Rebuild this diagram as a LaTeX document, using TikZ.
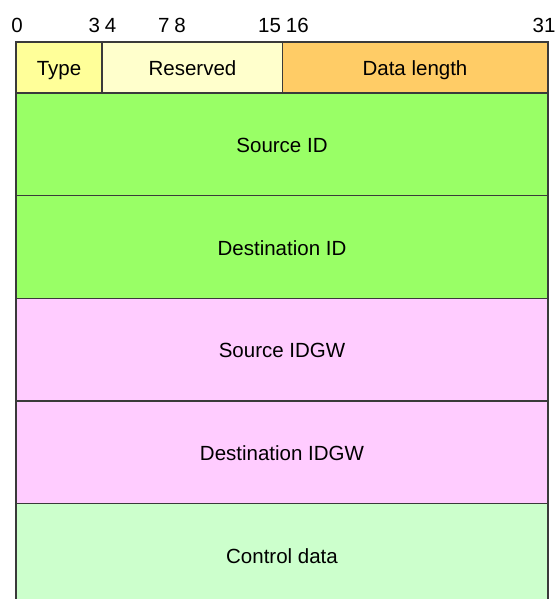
\documentclass[tikz,border=0pt]{standalone}
\usepackage{fontspec}
\setmainfont{Liberation Sans}
\definecolor{typec}{HTML}{FFFF99}
\definecolor{resc}{HTML}{FFFFCC}
\definecolor{lenc}{HTML}{FFCC66}
\definecolor{idc}{HTML}{99FF66}
\definecolor{gwc}{HTML}{FFCCFF}
\definecolor{ctlc}{HTML}{CCFFCC}
\definecolor{edge}{HTML}{3A3A3A}
\begin{document}
\begin{tikzpicture}[x=1pt,y=-1pt,
  field/.style={draw=edge,line width=1.5pt},
  lbl/.style={font=\fontsize{20.5}{24}\selectfont,text=black,inner sep=0pt,anchor=base},
  bit/.style={font=\fontsize{20.5}{24}\selectfont,text=black,inner sep=0pt,anchor=base}]
\useasboundingbox (0,0) rectangle (555,599);
% header word: type, reserved, data length
\filldraw[field,fill=typec] (16,42) rectangle (102,93);
\filldraw[field,fill=resc] (102,42) rectangle (282.5,93);
\filldraw[field,fill=lenc] (282.5,42) rectangle (548,93);
\node[lbl] (type) at (59,76) {Type};
\node[lbl] (res) at (192.5,76) {Reserved};
\node[lbl] (len) at (415,76) {Data length};
% address words
\filldraw[field,fill=idc] (16,93) rectangle (548,195.7);
\filldraw[field,fill=idc] (16,195.7) rectangle (548,298.3);
\filldraw[field,fill=gwc] (16,298.3) rectangle (548,401);
\filldraw[field,fill=gwc] (16,401) rectangle (548,503.6);
\node[lbl] (src) at (282,152.3) {Source ID};
\node[lbl] (dst) at (282,255) {Destination ID};
\node[lbl] (srcgw) at (282,357.7) {Source IDGW};
\node[lbl] (dstgw) at (282,460.3) {Destination IDGW};
% control data, open at the bottom
\fill[ctlc] (16,503.6) rectangle (548,599);
\draw[field] (16,599) -- (16,503.6) -- (548,503.6) -- (548,599);
\node[lbl] (ctl) at (282,563) {Control data};
% bit positions
\node[bit] (b0) at (17,32.3) {0};
\node[bit] (b34) at (102.5,32.3) {3\hspace{5pt}4};
\node[bit] (b78) at (172,32.3) {7\hspace{5pt}8};
\node[bit] (b1516) at (283.5,32.3) {15\hspace{5pt}16};
\node[bit] (b31) at (544,32.3) {31};
\end{tikzpicture}
\end{document}
